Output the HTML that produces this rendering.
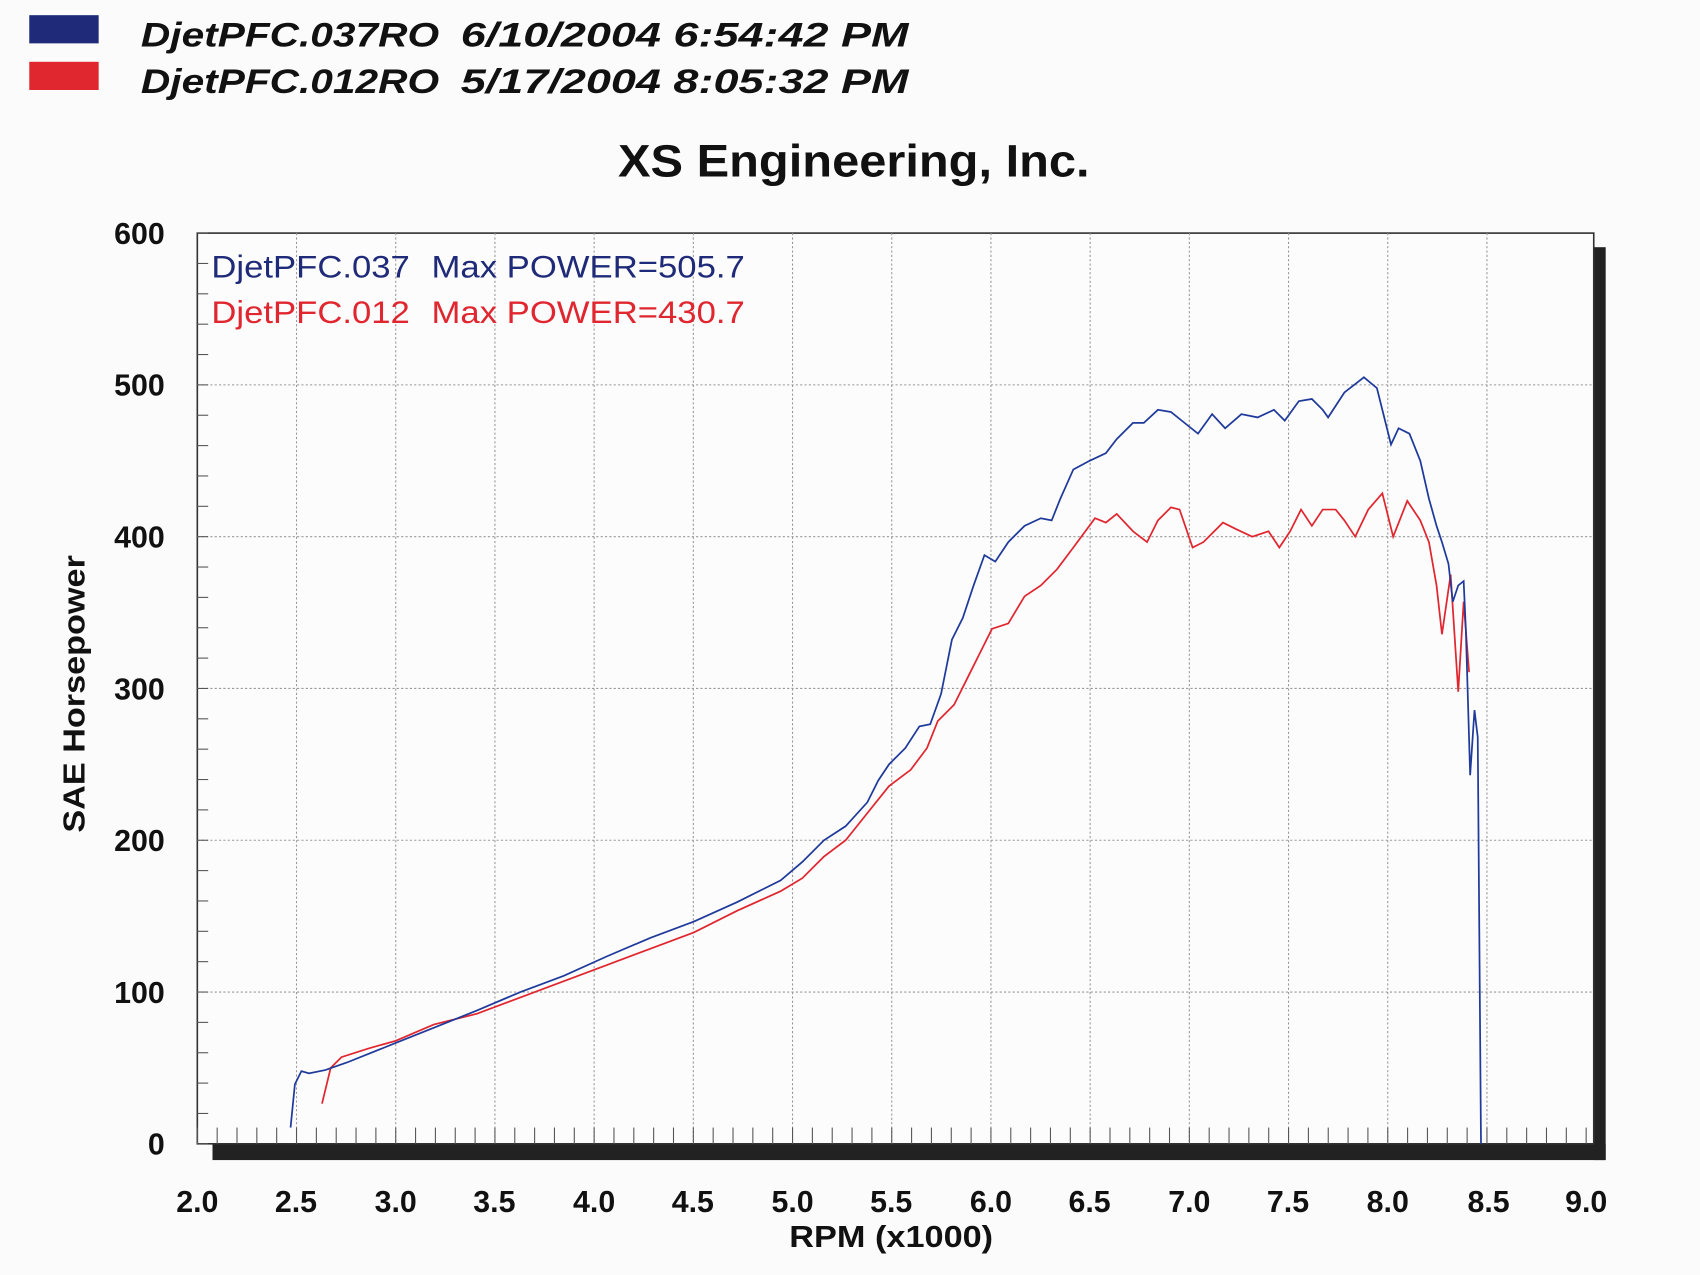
<!DOCTYPE html>
<html><head><meta charset="utf-8"><style>
html,body{margin:0;padding:0;background:#fbfbfb;}
svg{display:block;}
text{font-family:"Liberation Sans",Arial,sans-serif;}
</style></head><body>
<svg width="1700" height="1275" viewBox="0 0 1568 1176" xmlns="http://www.w3.org/2000/svg">
<rect width="1568" height="1176" fill="#fbfbfb"/>
<rect x="27" y="14" width="64" height="26" fill="#1f2a78"/>
<rect x="27" y="57" width="64" height="26" fill="#e0262e"/>
<g font-size="32" font-weight="bold" font-style="italic" fill="#111">
<text x="130" y="43" textLength="275" lengthAdjust="spacingAndGlyphs">DjetPFC.037RO</text>
<text x="425" y="43" textLength="413" lengthAdjust="spacingAndGlyphs">6/10/2004 6:54:42 PM</text>
<text x="130" y="86" textLength="275" lengthAdjust="spacingAndGlyphs">DjetPFC.012RO</text>
<text x="425" y="86" textLength="413" lengthAdjust="spacingAndGlyphs">5/17/2004 8:05:32 PM</text>
</g>
<text x="570" y="163" font-size="42" font-weight="bold" fill="#111" textLength="435" lengthAdjust="spacingAndGlyphs">XS Engineering, Inc.</text>
<!-- shadow -->
<rect x="1470" y="228" width="11" height="842" fill="#222"/>
<rect x="196" y="1055" width="1285" height="15" fill="#222"/>
<rect x="182" y="215" width="1288" height="840" fill="#fcfcfd" stroke="#333" stroke-width="1.5"/>
<g stroke="#999" stroke-width="1" stroke-dasharray="2,2">
<line x1="182" y1="355" x2="1470" y2="355"/><line x1="182" y1="495" x2="1470" y2="495"/>
<line x1="182" y1="635" x2="1470" y2="635"/><line x1="182" y1="775" x2="1470" y2="775"/>
<line x1="182" y1="915" x2="1470" y2="915"/>
<line x1="273.5" y1="215" x2="273.5" y2="1055"/><line x1="365" y1="215" x2="365" y2="1055"/>
<line x1="456.5" y1="215" x2="456.5" y2="1055"/><line x1="548" y1="215" x2="548" y2="1055"/>
<line x1="639.5" y1="215" x2="639.5" y2="1055"/><line x1="731" y1="215" x2="731" y2="1055"/>
<line x1="822.5" y1="215" x2="822.5" y2="1055"/><line x1="914" y1="215" x2="914" y2="1055"/>
<line x1="1005.5" y1="215" x2="1005.5" y2="1055"/><line x1="1097" y1="215" x2="1097" y2="1055"/>
<line x1="1188.5" y1="215" x2="1188.5" y2="1055"/><line x1="1280" y1="215" x2="1280" y2="1055"/>
<line x1="1371.5" y1="215" x2="1371.5" y2="1055"/>
</g>
<g stroke="#555" stroke-width="1" id="mt"></g>
<g font-size="28" font-weight="bold" fill="#111" text-anchor="end">
<text x="152" y="225">600</text><text x="152" y="365">500</text><text x="152" y="505">400</text>
<text x="152" y="645">300</text><text x="152" y="785">200</text><text x="152" y="925">100</text>
<text x="152" y="1065">0</text>
</g>
<g font-size="28" font-weight="bold" fill="#111" text-anchor="middle">
<text x="182" y="1118">2.0</text><text x="273" y="1118">2.5</text><text x="365" y="1118">3.0</text>
<text x="456" y="1118">3.5</text><text x="548" y="1118">4.0</text><text x="639" y="1118">4.5</text>
<text x="731" y="1118">5.0</text><text x="822" y="1118">5.5</text><text x="914" y="1118">6.0</text>
<text x="1005" y="1118">6.5</text><text x="1097" y="1118">7.0</text><text x="1188" y="1118">7.5</text>
<text x="1280" y="1118">8.0</text><text x="1373" y="1118">8.5</text><text x="1463" y="1118">9.0</text>
</g>
<text x="728" y="1150" font-size="28" font-weight="bold" fill="#111" textLength="188" lengthAdjust="spacingAndGlyphs">RPM (x1000)</text>
<text transform="translate(78,768) rotate(-90)" font-size="28" font-weight="bold" fill="#111" textLength="256" lengthAdjust="spacingAndGlyphs">SAE Horsepower</text>
<g font-size="29">
<text x="195" y="256" fill="#1f2a78" textLength="183" lengthAdjust="spacingAndGlyphs">DjetPFC.037</text>
<text x="398" y="256" fill="#1f2a78" textLength="289" lengthAdjust="spacingAndGlyphs">Max POWER=505.7</text>
<text x="195" y="298" fill="#e0262e" textLength="183" lengthAdjust="spacingAndGlyphs">DjetPFC.012</text>
<text x="398" y="298" fill="#e0262e" textLength="289" lengthAdjust="spacingAndGlyphs">Max POWER=430.7</text>
</g>
<polyline fill="none" stroke="#e0262e" stroke-width="1.6" points="297,1018 305,985 315,975 340,967 365,960 400,945 440,935 480,920 520,905 560,890 600,875 640,860 680,840 720,822 740,810 760,790 780,775 800,750 820,725 840,710 855,690 865,665 880,650 895,620 905,600 915,580 930,575 945,550 960,540 975,525 990,505 1010,478 1020,482 1030,474 1045,490 1058,500 1068,480 1080,468 1088,470 1100,505 1110,500 1128,482 1140,488 1155,495 1170,490 1180,505 1190,490 1200,470 1210,485 1220,470 1232,470 1240,480 1250,495 1262,470 1275,455 1285,495 1298,462 1310,480 1318,500 1325,540 1330,585 1338,530 1345,638 1350,555 1355,620"/>
<polyline fill="none" stroke="#1f3a9a" stroke-width="1.6" points="268,1040 272,1000 278,988 285,990 300,987 320,980 340,972 365,962 400,948 440,932 480,915 520,900 560,882 600,865 640,850 680,832 720,812 740,795 760,775 780,762 800,740 810,720 820,705 835,690 848,670 858,668 868,640 878,590 888,570 898,540 908,512 918,518 930,500 945,485 960,478 970,480 978,460 990,433 1005,425 1020,418 1030,405 1045,390 1055,390 1068,378 1080,380 1095,392 1105,400 1118,382 1130,395 1145,382 1160,385 1175,378 1185,388 1198,370 1210,368 1220,378 1225,385 1240,362 1258,348 1270,358 1283,410 1290,395 1300,400 1310,425 1318,460 1325,485 1330,500 1336,520 1340,555 1345,540 1350,536 1352,580 1356,715 1360,655 1363,680 1366,1055"/>
</svg>
<script>
var g=document.getElementById('mt'),s='';
for(var i=0;i<=70;i++){var x=182+i*18.3;s+='<line x1="'+x+'" y1="1040" x2="'+x+'" y2="1055"/>';}
for(var j=0;j<=30;j++){var y=1055-j*28;s+='<line x1="182" y1="'+y+'" x2="192" y2="'+y+'"/>';}
g.innerHTML=s;
</script>
</body></html>
